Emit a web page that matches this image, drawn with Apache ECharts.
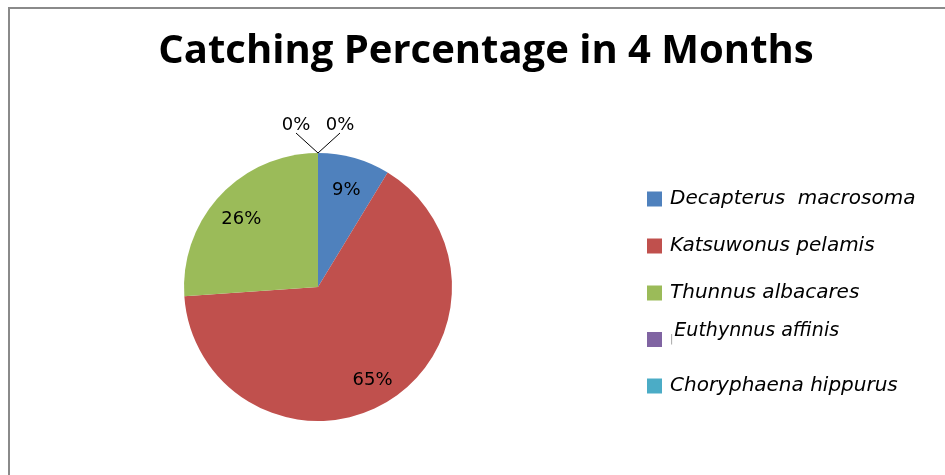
<!DOCTYPE html>
<html>
<head>
<meta charset="utf-8">
<script src="https://cdn.jsdelivr.net/npm/echarts@6/dist/echarts.min.js"></script>
<style>
  html, body { margin: 0; padding: 0; background: #fff; }
  #chart { width: 945px; height: 475px; }
</style>
</head>
<body>
<div id="chart"></div>
<script>
// species caught and their share
const species = ['Decapterus  macrosoma', 'Katsuwonus pelamis', 'Thunnus albacares', 'Euthynnus affinis', 'Choryphaena hippurus'];
const shares = [8.7, 65.2, 26.1, 0, 0];
const colors = ['#4F81BD', '#C0504D', '#9BBB59', '#8064A2', '#4BACC6'];
const titleText = 'Catching Percentage in 4 Months';

const cx = 318, cy = 287, R = 134;

let chartView = echarts.init(document.getElementById('chart'), null, { renderer: 'canvas' });

const pieData = species.map(function (name, i) {
  const item = { name: name, value: shares[i] };
  if (shares[i] === 0) {
    item.label = { position: 'outside' };
    item.labelLine = { show: true, length: 10, length2: 10 };
  } else {
    item.label = { position: 'inside' };
    item.labelLine = { show: false };
  }
  return item;
});

chartView.setOption({
  backgroundColor: '#fff',
  animation: false,
  color: colors,
  title: {
    text: titleText,
    left: 481,
    textAlign: 'center',
    top: 27,
    textStyle: {
      fontFamily: 'Open Sans',
      fontWeight: 'bold',
      fontSize: 40,
      color: '#000'
    }
  },
  legend: {
    orient: 'vertical',
    left: 647,
    top: 181,
    padding: 0,
    itemWidth: 15,
    itemHeight: 15,
    itemGap: 11,
    icon: 'rect',
    textStyle: {
      fontFamily: 'DejaVu Sans',
      fontStyle: 'italic',
      fontSize: 20,
      color: '#000',
      rich: {
        n: {
          fontFamily: 'DejaVu Sans',
          fontStyle: 'italic',
          fontSize: 20,
          lineHeight: 20,
          color: '#000',
          padding: [8, 0, 8, 3]
        },
        e: {
          fontFamily: 'DejaVu Sans',
          fontStyle: 'italic',
          fontSize: 19,
          lineHeight: 20,
          color: '#000',
          padding: [0, 0, 16, 0]
        },
        bar: {
          color: '#999',
          fontSize: 10,
          padding: [0, 1, 0, 3]
        }
      }
    },
    formatter: function (name) {
      // this entry sits a little higher than its swatch in the picture
      if (name === 'Euthynnus affinis') {
        return '{bar||}{e|' + name + '}';
      }
      return '{n|' + name + '}';
    },
    data: species
  },
  graphic: [{
    type: 'rect',
    shape: { x: 9, y: 8, width: 960, height: 500 },
    style: { fill: 'none', stroke: '#8a8a8a', lineWidth: 2 },
    silent: true
  }],
  series: [{
    type: 'pie',
    center: [cx, cy],
    radius: R,
    startAngle: 90,
    clockwise: true,
    avoidLabelOverlap: false,
    itemStyle: { borderWidth: 0 },
    emphasis: { disabled: true },
    label: {
      show: true,
      fontFamily: 'DejaVu Sans',
      fontSize: 18,
      color: '#000',
      formatter: function (p) { return Math.round(p.percent) + '%'; }
    },
    labelLine: {
      lineStyle: { color: '#000', width: 1 }
    },
    labelLayout: function (p) {
      if (shares[p.dataIndex] === 0) {
        // both empty slices sit at 12 o'clock, labels split left and right
        const side = p.dataIndex === 3 ? -1 : 1;
        const tx = cx + side * 22, ty = cy - R - 20;
        return {
          x: tx, y: ty + 1, align: 'center', verticalAlign: 'bottom',
          labelLinePoints: [[cx, cy - R], [tx, ty], [tx, ty]]
        };
      }
      // push inside labels further out toward the rim
      const r = p.labelRect;
      const lx = r.x + r.width / 2, ly = r.y + r.height / 2;
      return {
        x: cx + (lx - cx) * 1.5,
        y: cy + (ly - cy) * 1.5 + 4,
        align: 'center', verticalAlign: 'middle'
      };
    },
    data: pieData
  }]
});
</script>
</body>
</html>
